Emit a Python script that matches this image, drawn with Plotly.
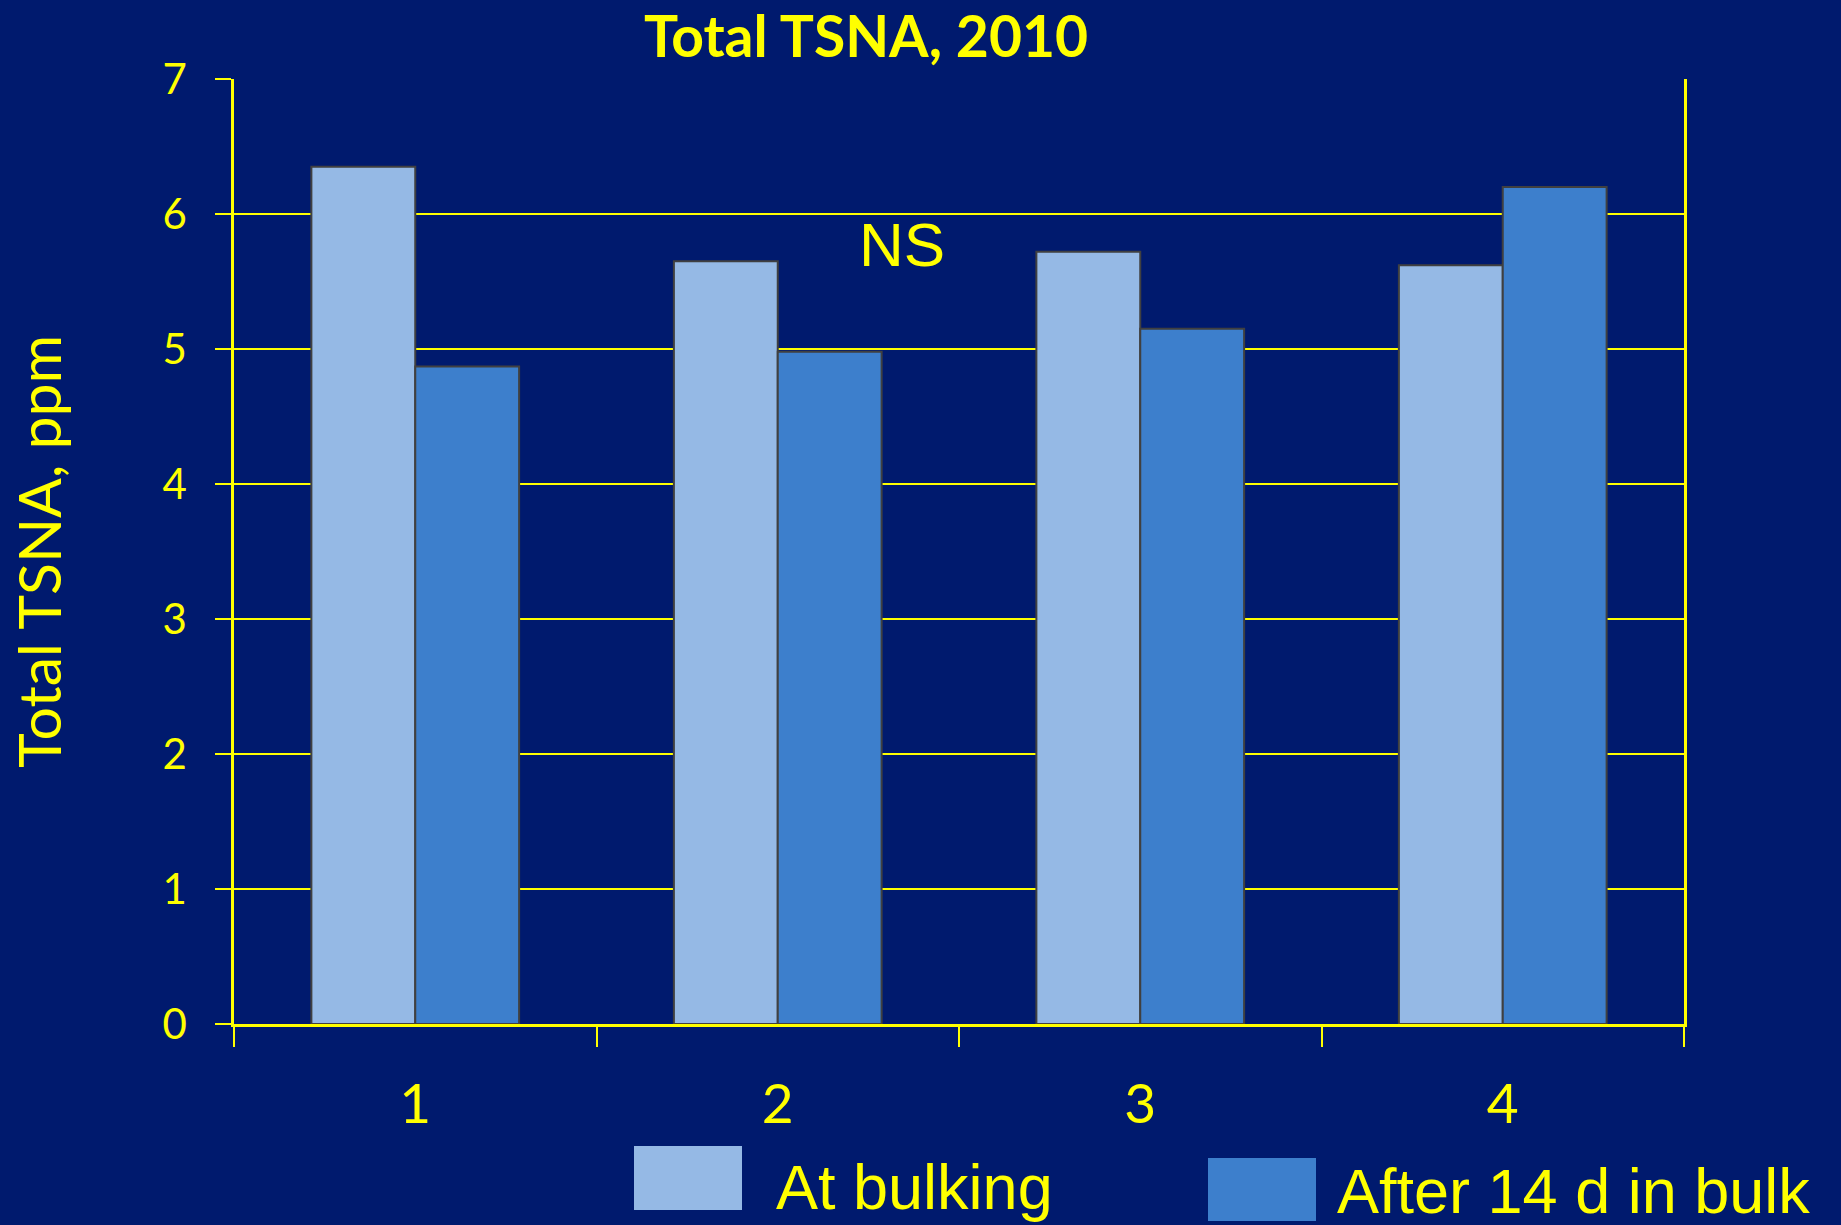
import plotly.graph_objects as go

categories = ["1", "2", "3", "4"]
series_names = ["At bulking", "After 14 d in bulk"]
at_bulking = [6.35, 5.65, 5.72, 5.62]
after_14d = [4.87, 4.98, 5.15, 6.20]
y_ticks = [0, 1, 2, 3, 4, 5, 6, 7]

BG = "#001A6E"
YEL = "#FFFF00"
LIGHT = "#95B9E5"
DARK = "#3D7FCC"
W, H = 1841, 1225
L, R, T, B = 234, 157, 79, 201

fig = go.Figure()
for name, vals, col in [(series_names[0], at_bulking, LIGHT), (series_names[1], after_14d, DARK)]:
    fig.add_trace(go.Bar(x=categories, y=vals, name=name, marker=dict(color=col, line=dict(color="#404040", width=2)),
                         showlegend=False))

def px_x(p):
    return (p - L) / (W - L - R)

def px_y(p):
    return 1 - (p - T) / (H - T - B)

shapes = []
annotations = []
# legend swatches and labels
leg = [
    (series_names[0], LIGHT, (634, 742, 1146, 1210), 775, 1187),
    (series_names[1], DARK, (1208, 1316, 1158, 1221), 1336, 1191),
]
for name, col, (x0, x1, y0, y1), tx, ty in leg:
    shapes.append(dict(type="rect", xref="paper", yref="paper", x0=px_x(x0), x1=px_x(x1),
                       y0=px_y(y1), y1=px_y(y0), fillcolor=col, line=dict(width=0)))
    annotations.append(dict(text=name, xref="paper", yref="paper", x=px_x(tx), y=px_y(ty),
                            xanchor="left", yanchor="middle", showarrow=False, borderpad=0,
                            font=dict(family="Liberation Sans, Arial", size=63, color=YEL)))

annotations.append(dict(text="NS", xref="paper", yref="paper", x=px_x(902), y=px_y(244),
                        xanchor="center", yanchor="middle", showarrow=False,
                        font=dict(family="Liberation Sans, Arial", size=62, color=YEL)))

fig.update_layout(
    width=W, height=H,
    margin=dict(l=L, r=R, t=T, b=B),
    paper_bgcolor=BG, plot_bgcolor=BG,
    barmode="group", bargap=0.427, bargroupgap=0,
    title=dict(text="<b>Total TSNA, 2010</b>", xref="paper", x=px_x(866), xanchor="center",
               yref="container", y=1 - 37 / H, yanchor="middle",
               font=dict(family="Lato", size=57, color=YEL)),
    shapes=shapes, annotations=annotations,
    xaxis=dict(type="category", showline=True, linecolor=YEL, linewidth=2.5,
               ticks="outside", tickson="boundaries", ticklen=20, tickwidth=2, tickcolor=YEL,
               tickfont=dict(family="Lato", size=55, color=YEL), ticklabelstandoff=30,
               showgrid=False),
    yaxis=dict(range=[0, 7], tickvals=y_ticks, showline=True, mirror=True, linecolor=YEL, linewidth=2.5,
               ticks="outside", ticklen=16, tickwidth=2, tickcolor=YEL,
               showgrid=True, gridcolor=YEL, gridwidth=2, zeroline=False,
               tickfont=dict(family="Lato", size=42, color=YEL), ticklabelstandoff=20,
               title=dict(text="Total TSNA, ppm", font=dict(family="Lato", size=59, color=YEL), standoff=82)),
)

fig.write_html("out.html", config={"displayModeBar": False},
               post_script="document.body.style.margin='0';document.body.style.padding='0';document.body.style.overflow='hidden';")
